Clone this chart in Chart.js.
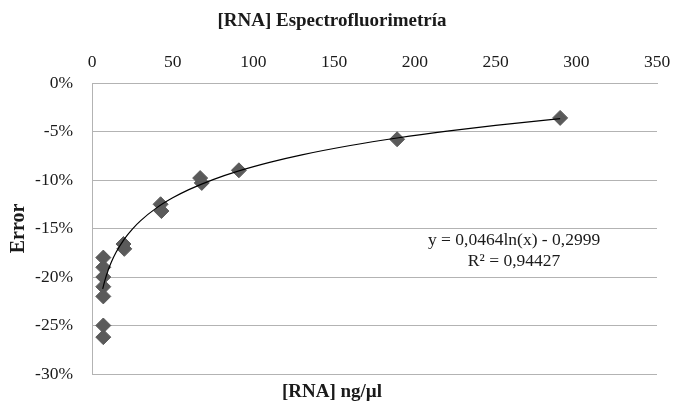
<!DOCTYPE html>
<html>
<head>
<meta charset="utf-8">
<script src="https://cdn.jsdelivr.net/npm/chart.js@4"></script>
<style>
  html, body { margin: 0; padding: 0; background: #fff; }
  #wrap { width: 684px; height: 407px; }
</style>
</head>
<body>
<div id="wrap"><canvas id="rnaChart"></canvas></div>
<script>
// measured concentrations (ng/µl) and relative error (%)
var concentrations = [7, 7, 7, 7, 7, 7, 7, 19.5, 20, 42.5, 43, 67, 68, 91, 189, 290];
var errors = [-18, -19, -20, -21, -22, -25, -26.2, -16.6, -17.1, -12.5, -13.2, -9.8, -10.3, -9.0, -5.8, -3.6];

// logarithmic trendline as printed on the chart
var trendA = 0.0464;
var trendB = -0.2999;
var trendR2 = 0.94427;
var trendX = [6.6, 8, 10, 12, 15, 20, 25, 30, 40, 50, 60, 75, 90, 110, 130, 160, 190, 220, 250, 290];

var xTicks = [0, 50, 100, 150, 200, 250, 300, 350];
var yTicks = [0, -5, -10, -15, -20, -25, -30];

var points = concentrations.map(function(c, i) {
    return { x: c, y: errors[i] };
});
var trend = trendX.map(function(x) {
    return { x: x, y: 100 * (trendA * Math.log(x) + trendB) };
});

var serif = "'Liberation Serif', 'Times New Roman', serif";

function fmt(v, d) {
    return v.toFixed(d).replace('.', ',');
}

var equationLabel = {
    id: 'equationLabel',
    afterDatasetsDraw: function(chart) {
        var ctx = chart.ctx;
        var a = chart.chartArea;
        var w = a.right - a.left, h = a.bottom - a.top;
        ctx.save();
        ctx.font = '17.5px ' + serif;
        ctx.fillStyle = '#1a1a1a';
        ctx.textAlign = 'center';
        ctx.textBaseline = 'middle';
        var cx = a.left + w * 0.747;
        ctx.fillText('y = ' + fmt(trendA, 4) + 'ln(x) - ' + fmt(-trendB, 4), cx, a.top + h * 0.54);
        ctx.fillText('R\u00b2 = ' + fmt(trendR2, 5), cx, a.top + h * 0.613);
        ctx.restore();
    }
};

new Chart(document.getElementById('rnaChart'), {
    type: 'scatter',
    data: {
        datasets: [{
            label: 'Error',
            data: points,
            pointStyle: 'rectRot',
            pointRadius: 7.5,
            pointHoverRadius: 7.5,
            backgroundColor: '#5a5a5a',
            borderColor: '#5a5a5a',
            borderWidth: 1,
            order: 2
        }, {
            label: 'Tendencia',
            data: trend,
            showLine: true,
            borderColor: '#000',
            borderWidth: 1.2,
            pointRadius: 0,
            pointHoverRadius: 0,
            cubicInterpolationMode: 'monotone',
            fill: false,
            order: 1
        }]
    },
    options: {
        responsive: true,
        maintainAspectRatio: false,
        animation: false,
        layout: { padding: { top: 0, right: 20, bottom: 0, left: 0 } },
        plugins: {
            legend: { display: false },
            tooltip: { enabled: false },
            title: {
                display: true,
                text: '[RNA] Espectrofluorimetría',
                color: '#1a1a1a',
                font: { family: serif, size: 19, weight: 'bold' },
                padding: { top: 10, bottom: 6 }
            },
            subtitle: {
                display: true,
                position: 'bottom',
                text: '[RNA] ng/\u00b5l',
                color: '#1a1a1a',
                font: { family: serif, size: 19, weight: 'bold' },
                padding: { top: 6.6, bottom: 3.6 }
            }
        },
        scales: {
            x: {
                type: 'linear',
                position: 'top',
                min: 0,
                max: 350,
                afterBuildTicks: function(axis) {
                    axis.ticks = xTicks.map(function(v) { return { value: v }; });
                },
                afterFit: function(axis) {
                    axis.height = 44.2;
                    axis.paddingLeft = 0;
                    axis.paddingRight = 27;
                },
                grid: { display: false, drawTicks: false },
                border: { display: true, color: '#b3b3b3' },
                ticks: {
                    color: '#1a1a1a',
                    padding: 10,
                    maxRotation: 0,
                    font: { family: serif, size: 17.5 }
                }
            },
            y: {
                type: 'linear',
                min: -30,
                max: 0,
                afterBuildTicks: function(axis) {
                    axis.ticks = yTicks.map(function(v) { return { value: v }; });
                },
                afterFit: function(axis) {
                    axis.width = 92;
                },
                title: {
                    display: true,
                    text: 'Error',
                    color: '#1a1a1a',
                    font: { family: serif, size: 20, weight: 'bold' },
                    padding: { top: 6.5, bottom: 0 }
                },
                grid: { color: '#b3b3b3', lineWidth: 1, drawTicks: false },
                border: { display: true, color: '#b3b3b3' },
                ticks: {
                    color: '#1a1a1a',
                    padding: 19,
                    font: { family: serif, size: 17.5 },
                    callback: function(v) { return v + '%'; }
                }
            }
        }
    },
    plugins: [equationLabel]
});
</script>
</body>
</html>
